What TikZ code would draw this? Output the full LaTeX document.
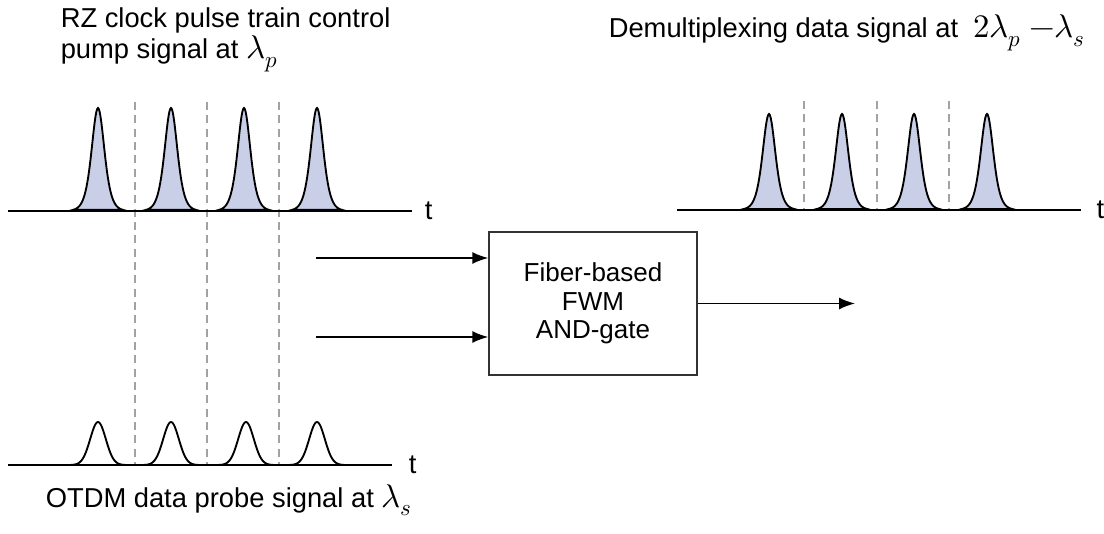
\documentclass[tikz,border=0pt]{standalone}
\usepackage{amsmath}
\usepackage{unicode-math}
\setmainfont{Liberation Sans}
\setmathfont{Latin Modern Math}[Scale=1.2]
\usetikzlibrary{arrows.meta}
\definecolor{pulseblue}{RGB}{201,207,230}
\definecolor{slotgray}{RGB}{158,163,168}
\definecolor{boxgray}{RGB}{51,51,51}

\begin{document}
\begin{tikzpicture}[>={Latex[length=12pt,width=9pt]},x=0.75pt,y=0.75pt,line width=1.2pt]
    \tikzstyle{every node}=[font=\fontsize{20.5}{20.5}\selectfont,text=black]
    \tikzstyle{label}=[inner sep=0pt,align=left,anchor=base west]
    \tikzstyle{axis}=[line width=1.4pt,black]
    \tikzstyle{pump}=[line width=1.4pt,draw=black,fill=pulseblue]
    \tikzstyle{probe}=[line width=1.4pt,black]
    \tikzstyle{slot}=[line width=1.1pt,slotgray,dash pattern=on 6pt off 4pt]
    \tikzstyle{gate}=[draw=boxgray,line width=1.1pt,minimum width=156pt,minimum height=107pt,
        align=center,font=\fontsize{19.5}{21.5}\selectfont]
    \useasboundingbox (0,0) rectangle (1104,533);

    % time slots
    \foreach \s in {135,207,279}
        \draw[slot] (\s,431) -- (\s,68);
    \foreach \s in {804,877,949}
        \draw[slot] (\s,432) -- (\s,323);

    % control pump pulses
    \foreach \p in {98,171,244,317}
        \filldraw[pump] plot[domain=-25:25,samples=61] ({\p+\x},{322+103/(cosh(\x/8.5))^2}) -- cycle;
    \coordinate (pumpstart) at (8,322);
    \coordinate (pumpend)   at (412,322);
    \draw[axis] (pumpstart) -- (pumpend) node[right=9pt,inner sep=0pt] (tpump) {t};

    % data probe pulses
    \foreach \p in {98,171,246,317}
        \draw[probe] plot[domain=-27:27,samples=61] ({\p+\x},{68+43*exp(-(\x/11)^2)});
    \coordinate (probestart) at (8,68);
    \coordinate (probeend)   at (392,68);
    \draw[axis] (probestart) -- (probeend) node[right=12pt,inner sep=0pt] (tprobe) {t};

    % demultiplexed output
    \foreach \p in {769,842,914,987}
        \filldraw[pump] plot[domain=-25:25,samples=61] ({\p+\x},{323+96/(cosh(\x/8.5))^2}) -- cycle;
    \coordinate (demuxstart) at (677,323);
    \coordinate (demuxend)   at (1081,323);
    \draw[axis] (demuxstart) -- (demuxend) node[right=11pt,inner sep=0pt] (tdemux) {t};

    \node[label] (pumptxt)  at (60,474)  {RZ clock pulse train control\\[1pt]pump signal at\ $\lambda_p$};
    \node[label] (probetxt) at (45,26)   {OTDM data probe signal at\ $\lambda_s$};
    \node[label] (demuxtxt) at (608,495) {Demultiplexing data signal at\ \ $2\lambda_p\ {-}\lambda_s$};

    \node[gate] (fwm) at (593,229.5) {Fiber-based\\FWM\\AND-gate};
    \coordinate (inpump)  at (316,275);
    \coordinate (inprobe) at (316,196);
    \coordinate (out)     at (855,229.5);
    \draw[->] (inpump)  -- (inpump -| fwm.west);
    \draw[->] (inprobe) -- (inprobe -| fwm.west);
    \draw[->] (fwm.east) -- (out);
\end{tikzpicture}
\end{document}
